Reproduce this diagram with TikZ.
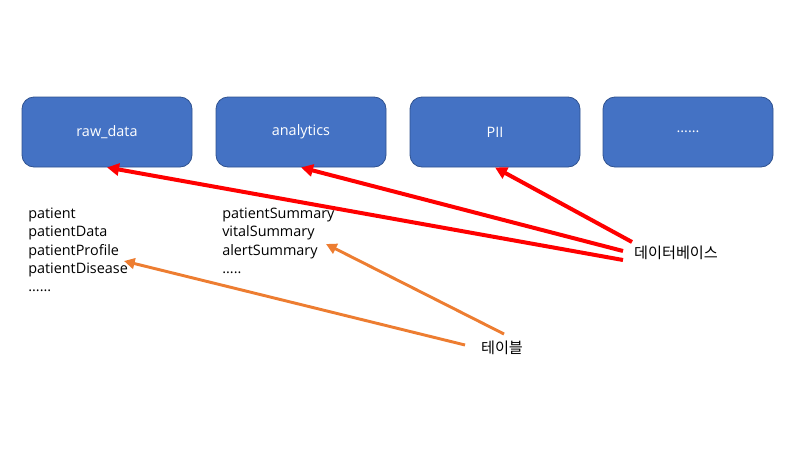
\documentclass[tikz,border=0pt]{standalone}
\usepackage{fontspec}
\setmainfont{Open Sans}
\newfontfamily\kofont{Noto Sans CJK KR}
\usepackage{tikz}
\usetikzlibrary{arrows.meta,positioning}
\definecolor{dbblue}{HTML}{4472C4}
\definecolor{dbedge}{HTML}{2F528F}
\definecolor{dbred}{HTML}{FF0000}
\definecolor{tblorange}{HTML}{ED7D31}

\begin{document}
\begin{tikzpicture}[
    x=0.75pt,
    y=-0.75pt,
    font=\fontsize{10.8pt}{13.6pt}\selectfont,
    dbbox/.style={rectangle, rounded corners=9pt, draw=dbedge, line width=0.6pt, fill=dbblue, text=white, minimum width=127.5pt, minimum height=52.5pt},
    tlist/.style={anchor=north west, align=left, inner sep=0pt},
    note/.style={font=\kofont\fontsize{11.4pt}{13.5pt}\selectfont, inner sep=0pt},
    dblink/.style={-{Triangle[length=9pt,width=9pt]}, line width=3pt, draw=dbred},
    tbllink/.style={-{Triangle[length=8pt,width=8pt]}, line width=2.2pt, draw=tblorange}
  ]
    \useasboundingbox (0,0) rectangle (800,450);
    \node[dbbox] (rawdata) at (107,132) {raw\_data};
    \node[dbbox] (analytics) at (301,132) {analytics};
    \node[dbbox] (pii) at (495,132) {PII};
    \node[dbbox] (more) at (688,132) {......};

    \node[tlist] (rawlist) at (28,208) {patient\\patientData\\patientProfile\\patientDisease\\......};
    \node[tlist] (analist) at (222,208) {patientSummary\\vitalSummary\\alertSummary\\.....};

    \node[note] (dblabel) at (676,253) {데이터베이스};
    \node[note] (tbllabel) at (502,348) {테이블};

    \coordinate (dbA) at (632,242);
    \coordinate (dbB) at (623,251);
    \coordinate (dbC) at (623,260);
    \coordinate (tblA) at (504,334);
    \coordinate (tblB) at (465,345);
    \coordinate (alertend) at (326,244);
    \coordinate (diseaseend) at (124,261);

    \draw[dblink] (dbA) -- (pii.south);
    \draw[dblink] (dbB) -- (analytics.south);
    \draw[dblink] (dbC) -- (rawdata.south);
    \draw[tbllink] (tblA) -- (alertend);
    \draw[tbllink] (tblB) -- (diseaseend);
  \end{tikzpicture}
\end{document}
